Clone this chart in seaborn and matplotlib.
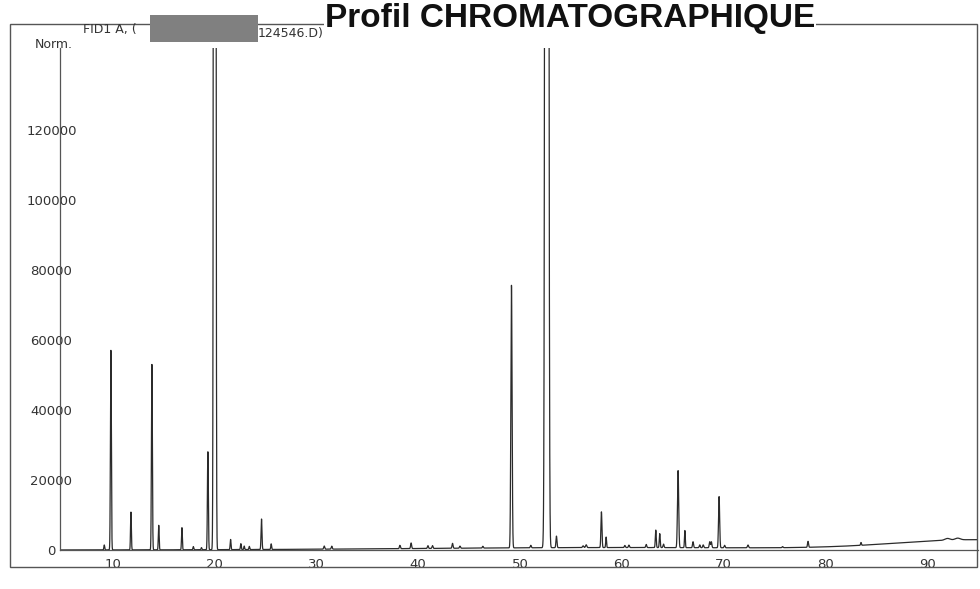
import numpy as np
import pandas as pd
import seaborn as sns
import matplotlib.pyplot as plt
from matplotlib.patches import Rectangle
from matplotlib.ticker import MultipleLocator

# peaks: retention time (min), height (norm.), width (min)
peak_times = [9.15, 9.8, 11.77, 13.83, 14.5, 16.78, 17.9, 18.7, 19.33, 20.0,
              21.56, 22.57, 22.9, 23.4, 24.6, 25.55, 30.76, 31.5, 38.2, 39.3,
              40.95, 41.4, 43.37, 44.1, 46.35, 49.16, 51.06, 52.63, 53.58, 56.2,
              56.5, 58.0, 58.46, 60.3, 60.7, 62.4, 63.34, 63.73, 64.1, 65.53,
              66.2, 67.0, 67.66, 68.0, 68.64, 68.8, 69.56, 70.1, 72.4, 75.8,
              78.3, 83.5, 92.0, 93.0]
peak_heights = [1400, 57000, 10800, 53000, 7000, 6300, 900, 600, 28000, 2000000,
                2900, 1700, 1000, 900, 8700, 1600, 900, 850, 950, 1600,
                800, 800, 1400, 600, 500, 75000, 700, 2000000, 3300, 500,
                800, 10200, 3000, 600, 700, 900, 5000, 4000, 1000, 22000,
                4900, 1700, 800, 800, 1700, 1700, 14600, 700, 800, 300,
                1700, 800, 500, 500]
peak_widths = [0.04, 0.045, 0.04, 0.045, 0.04, 0.04, 0.04, 0.04, 0.045, 0.065,
               0.04, 0.04, 0.04, 0.04, 0.045, 0.04, 0.05, 0.05, 0.05, 0.05,
               0.05, 0.05, 0.05, 0.05, 0.05, 0.06, 0.05, 0.1, 0.05, 0.06,
               0.06, 0.05, 0.04, 0.05, 0.05, 0.05, 0.045, 0.045, 0.05, 0.06,
               0.04, 0.05, 0.05, 0.05, 0.05, 0.05, 0.055, 0.05, 0.06, 0.05,
               0.05, 0.04, 0.25, 0.25]

# slow rise of the baseline towards the end of the run
drift_times = [60, 95]
drift_heights = [700, 2800]
drift_widths = [20, 8]

x_ticks = [10, 20, 30, 40, 50, 60, 70, 80, 90]
y_ticks = [0, 20000, 40000, 60000, 80000, 100000, 120000]

t = np.arange(4.8, 95.0, 0.004)
signal = np.zeros_like(t)
for tr, h, w in zip(peak_times + drift_times, peak_heights + drift_heights, peak_widths + drift_widths):
    signal += h * np.exp(-0.5 * ((t - tr) / w) ** 2)
df = pd.DataFrame({"time": t, "signal": signal})

sns.set_style("white")
plt.rcParams['font.family'] = ['DejaVu Sans']

W, H = 980, 589
fig = plt.figure(figsize=(W / 100, H / 100), dpi=100)
# axes box in pixels: left 60, right 978, top 48, bottom 550
ax = fig.add_axes([60 / W, (H - 550) / H, 918 / W, 502 / H])

sns.lineplot(data=df, x="time", y="signal", ax=ax, color="#2b2b2b", linewidth=0.9, estimator=None)
ax.set_xlim(4.8, 95.0)
ax.set_ylim(0, 143400)
ax.set_xlabel("")
ax.set_ylabel("")

for side in ["top", "right"]:
    ax.spines[side].set_visible(False)
for side in ["left", "bottom"]:
    ax.spines[side].set_color("#555555")
    ax.spines[side].set_linewidth(0.9)

ax.set_xticks(x_ticks)
ax.set_yticks(y_ticks)
ax.xaxis.set_minor_locator(MultipleLocator(2))
ax.yaxis.set_minor_locator(MultipleLocator(5000))
ax.tick_params(which="major", direction="out", length=4, width=0.8, color="#555555",
               labelsize=9.5, labelcolor="#333333")
ax.tick_params(which="minor", direction="out", length=2.5, width=0.7, color="#555555")
ax.tick_params(axis="x", which="major", pad=2)
ax.tick_params(axis="y", which="major", pad=2.2)
for lab in ax.get_yticklabels():
    lab.set_horizontalalignment("center")

# outer frame of the report page
fig.add_artist(Rectangle((10 / W, (H - 567) / H), 967 / W, 543 / H, transform=fig.transFigure,
                         fill=False, lw=1.0, ec="#555555"))

fig.text(570 / W, 1 - 18 / H, "Profil CHROMATOGRAPHIQUE", ha="center", va="center",
         fontsize=24, fontweight="bold", family="Liberation Sans", color="#111111",
         bbox=dict(facecolor="white", edgecolor="none", pad=1))
fig.text(83 / W, 1 - 29 / H, "FID1 A, (", ha="left", va="center", fontsize=9, color="#333333")
fig.add_artist(Rectangle((150 / W, 1 - 42 / H), 108 / W, 27 / H, transform=fig.transFigure,
                         facecolor="#808080", edgecolor="none"))
fig.text(258 / W, 1 - 33 / H, "124546.D)", ha="left", va="center", fontsize=9, color="#333333")
fig.text(35 / W, 1 - 45 / H, "Norm.", ha="left", va="center", fontsize=9, color="#333333")

fig.savefig("out.png", dpi=100)
